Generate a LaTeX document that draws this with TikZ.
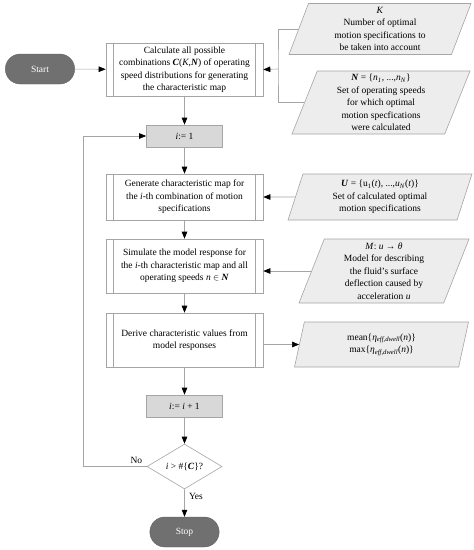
\documentclass[tikz,border=0pt]{standalone}
\usepackage{fontspec}
\setmainfont{Liberation Serif}
\usetikzlibrary{positioning, arrows.meta, shapes.misc, shapes.geometric}
\definecolor{Termgray}{RGB}{112,112,112}
\definecolor{Linegray}{RGB}{165,165,165}
\definecolor{Boxgray}{RGB}{216,216,216}
\definecolor{Datagray}{RGB}{237,237,237}

\begin{document}
\begin{tikzpicture}[
  x=1pt, y=-1pt,
  font=\fontsize{9.5}{12.5}\selectfont,
  term/.style={rounded rectangle, draw=Termgray!85!black, fill=Termgray,
               text=white, minimum width=76pt, minimum height=30pt},
  proc/.style={draw=Linegray, fill=white, minimum width=157pt,
               align=center, inner sep=0pt, line width=0.6pt},
  asgn/.style={draw=Linegray, fill=Boxgray, minimum width=76pt,
               minimum height=22pt, line width=0.6pt},
  data/.style={trapezium, trapezium left angle=66, trapezium right angle=114,
               trapezium stretches body, draw=Linegray, fill=Datagray,
               align=center, minimum width=182pt, inner sep=0pt,
               line width=0.6pt},
  cond/.style={diamond, aspect=1.667, draw=Linegray, fill=white,
               minimum width=75pt, minimum height=45pt, inner sep=0pt,
               line width=0.6pt},
  arr/.style={draw=Linegray, line width=0.6pt,
              -{Triangle[length=7pt, width=5.5pt, color=black]}},
  line/.style={draw=Linegray, line width=0.6pt},
  lbl/.style={font=\fontsize{9.5}{11}\selectfont}
]
\useasboundingbox (0,0) rectangle (474,550);

\node[term] (start) at (40,69) {Start};
\node[proc, minimum height=53pt] (calc) at (184.5,69.5)
  {Calculate all possible\\
   combinations \textbf{\textit{C}}(\textit{K},\textbf{\textit{N}}) of operating\\
   speed distributions for generating\\
   the characteristic map};
\node[data, minimum height=51pt] (kopt) at (380,29)
  {\textit{K}\\ Number of optimal\\ motion specifications to\\ be taken into account};
\node[data, minimum height=63pt, minimum width=178pt] (nset) at (381,102.5)
  {\textbf{\textit{N}} = \{\textit{n}\textsubscript{\textit{1}}, ...,\textit{n}\textsubscript{\textit{N}}\}\\
   Set of operating speeds\\ for which optimal\\ motion specfications\\ were calculated};
\node[asgn] (init) at (184.5,136) {\textit{i}:= 1};
\node[proc, minimum height=46pt] (gen) at (184.5,197)
  {Generate characteristic map for\\
   the \textit{i}-th combination of motion\\ specifications};
\node[data, minimum height=46pt, minimum width=184pt] (uset) at (380,197)
  {\textbf{\textit{U}} = \{u\textsubscript{1}(\textit{t}), ...,\textit{u}\textsubscript{\textit{N}}(\textit{t})\}\\
   Set of calculated optimal\\ motion specifications};
\node[proc, minimum height=54pt] (sim) at (184.5,266)
  {Simulate the model response for\\
   the \textit{i}-th characteristic map and all\\
   operating speeds \textit{n} $\in$ \textbf{\textit{N}}};
\node[data, minimum height=64pt, minimum width=170pt] (model) at (384,271)
  {\textit{M}: \textit{u} → \textit{θ}\\ Model for describing\\ the fluid's surface\\
   deflection caused by\\ acceleration \textit{u}};
\node[proc, minimum height=54pt] (der) at (184.5,340)
  {Derive characteristic values from\\ model responses};
\node[data, minimum height=45pt, minimum width=174pt] (meanmax) at (381.5,344.5)
  {mean\{\textit{η}\textsubscript{\textit{eff,dwell}}(\textit{n})\}\\
   max\{\textit{η}\textsubscript{\textit{eff,dwell}}(\textit{n})\}};
\node[asgn] (incr) at (184.5,406) {\textit{i}:= \textit{i} + 1};
\node[cond] (check) at (184.5,466.5) {\textit{i} > \#\{\textbf{\textit{C}}\}?};
\node[term] (stop) at (184.5,532) {Stop};

% double side lines of the process boxes
\foreach \n in {calc,gen,sim,der}
  \draw[line] ([xshift=8pt]\n.north west) -- ([xshift=8pt]\n.south west)
              ([xshift=-8pt]\n.north east) -- ([xshift=-8pt]\n.south east);

% inputs
\coordinate (join) at (278,69);
\draw[line] (kopt.west) -| (join) |- (nset.west);
\draw[arr] (join) -- (calc.east);
\draw[arr] (start) -- (calc);
\draw[arr] (uset.west) -- (gen.east);
\draw[arr] (model.west) -- (model.west -| sim.east);
\draw[arr] (der.east |- meanmax.west) -- (meanmax.west);

% main flow
\draw[arr] (calc) -- (init);
\draw[arr] (init) -- (gen);
\draw[arr] (gen)  -- (sim);
\draw[arr] (sim)  -- (der);
\draw[arr] (der)  -- (incr);
\draw[arr] (incr) -- (check);
\draw[arr] (check) -- (stop);

% loop back
\coordinate (back) at (83,466.5);
\draw[arr] (check.west) -- (back) |- (init.west);
\node[lbl, above left=-1pt and 1pt of check.west] (no) {No};
\node[lbl, below right=0pt and 1pt of check.south] (yes) {Yes};
\end{tikzpicture}
\end{document}
